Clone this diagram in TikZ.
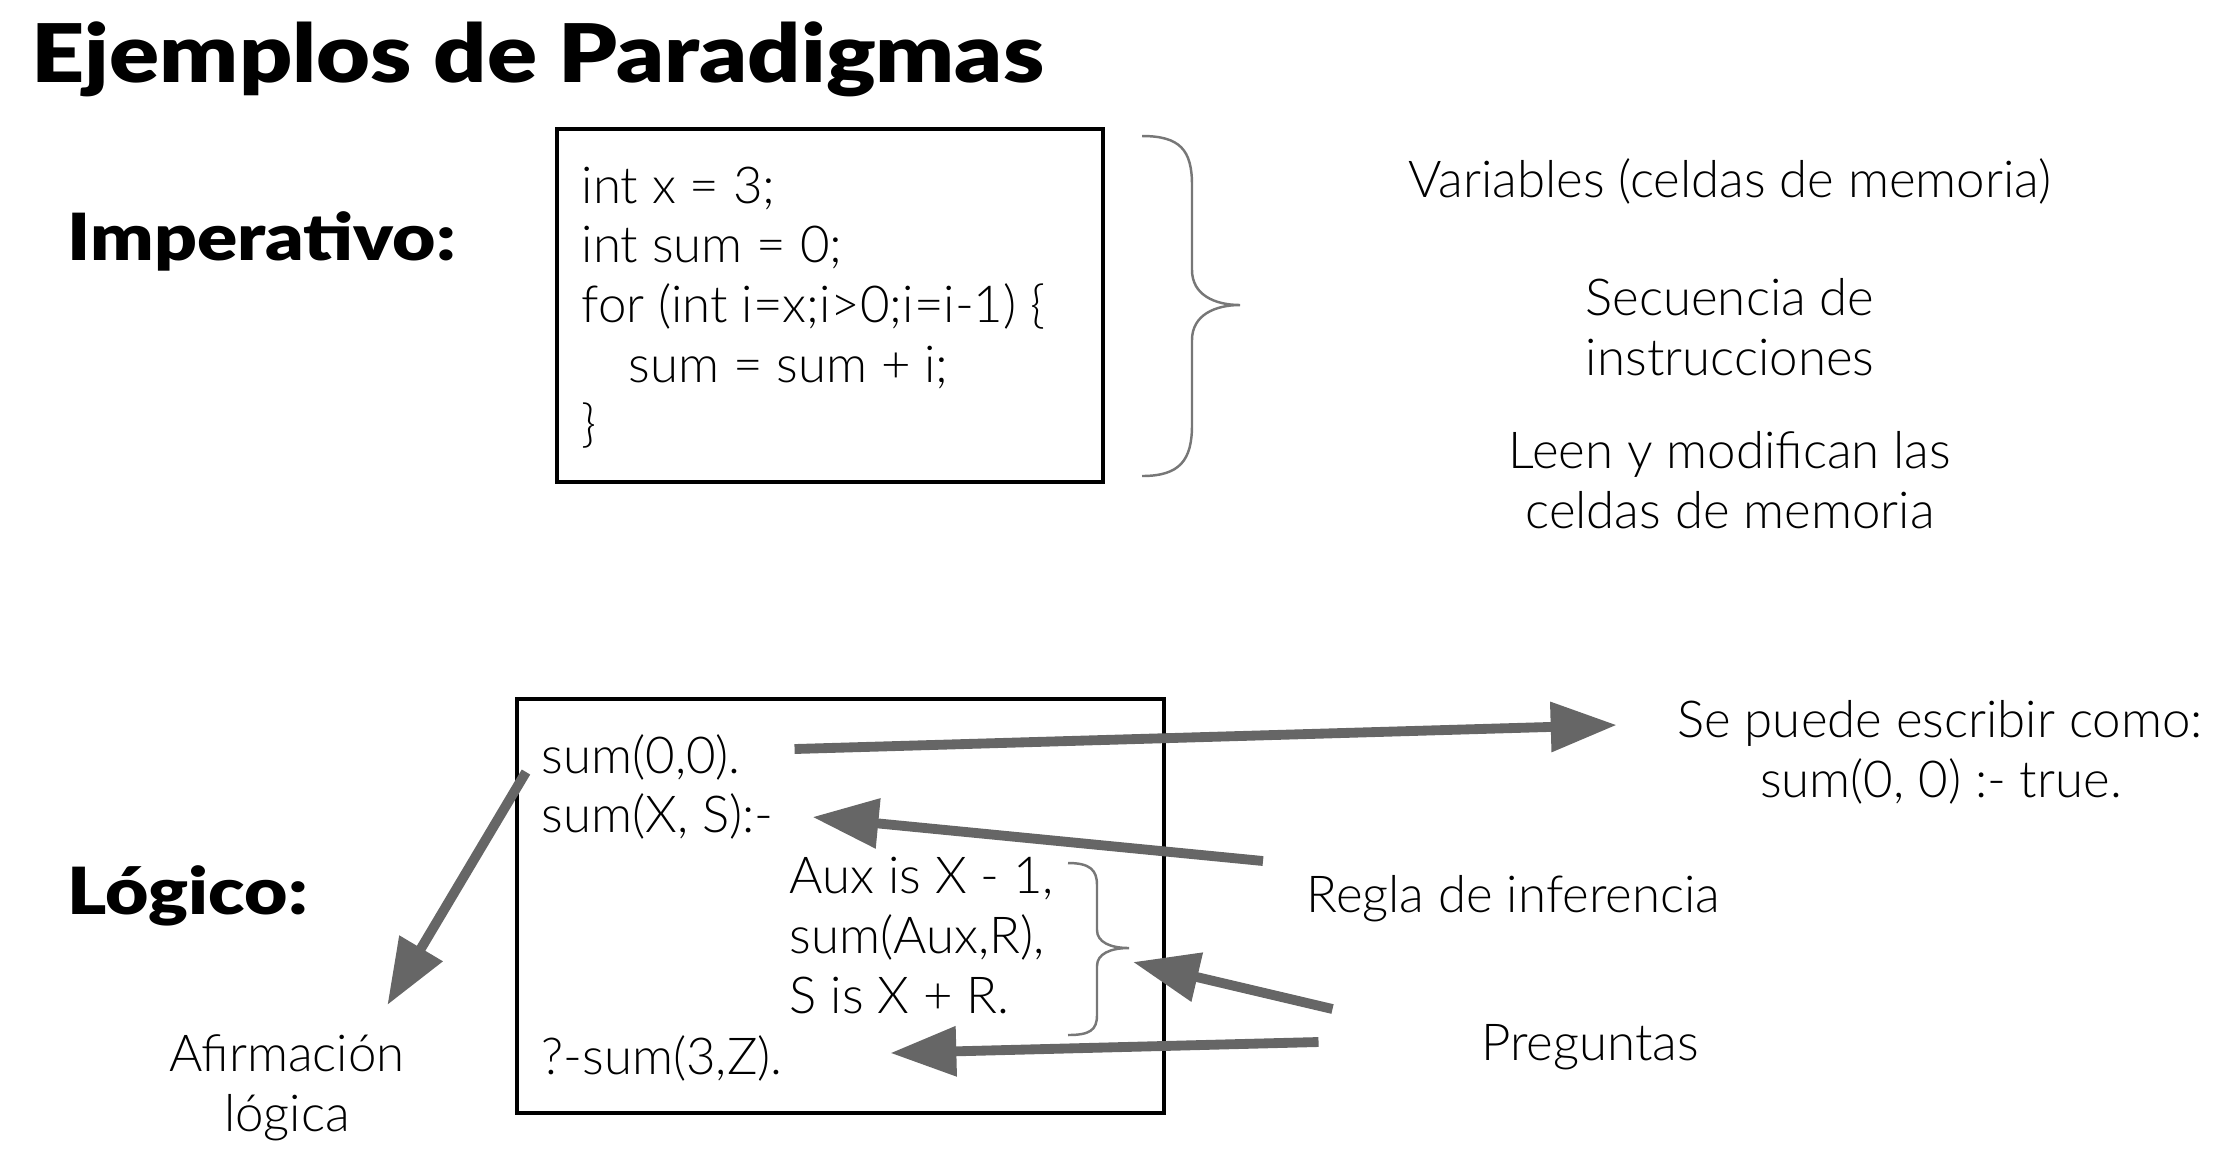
\documentclass[tikz,border=0pt]{standalone}
\usepackage{fontspec}
\setmainfont{Lato Light}
\newfontfamily\heavyfont[FakeStretch=1.15]{Lato Black}
\usetikzlibrary{arrows.meta}

\definecolor{arrowgray}{HTML}{666666}
\definecolor{bracegray}{HTML}{777777}

\newcommand{\bodyfont}{\fontsize{14.5pt}{17pt}\selectfont}
\newcommand{\titlefont}{\heavyfont\fontsize{23pt}{27pt}\selectfont}
\newcommand{\headfont}{\heavyfont\fontsize{18.5pt}{22pt}\selectfont}

\tikzset{
  txt/.style={inner sep=0pt, font=\bodyfont, anchor=base},
  codeline/.style={txt, anchor=base west},
  codebox/.style={draw, line width=1.2pt, inner sep=0pt},
  bigarrow/.style={arrowgray, line width=2.8pt,
    -{Triangle[length=0.66cm, width=0.48cm]}},
  curly/.style={bracegray, line width=0.7pt}
}

\begin{document}
\begin{tikzpicture}
  \useasboundingbox (0,0) rectangle (22.28,-11.62);
  \node[inner sep=0pt, anchor=base west, font=\titlefont] (title) at (0.31,-0.82) {Ejemplos de Paradigmas};
  \node[inner sep=0pt, anchor=base west, font=\headfont] (imp) at (0.67,-2.60) {Imperativo:};
  \node[inner sep=0pt, anchor=base west, font=\headfont] (log) at (0.67,-9.14) {Lógico:};

  \node[codebox, minimum width=5.46cm, minimum height=3.53cm] (impbox) at (8.30,-3.055) {};
  \node[codeline] (i1) at (5.81,-2.03) {int x = 3;};
  \node[codeline] (i2) at (5.81,-2.62) {int sum = 0;};
  \node[codeline] (i3) at (5.81,-3.22) {for (int i=x;i>0;i=i-1) \{};
  \node[codeline] (i4) at (6.28,-3.82) {sum = sum + i;};
  \node[codeline] (i5) at (5.81,-4.41) {\}};

  \draw[curly] (11.42,-1.36) .. controls (11.80,-1.36) and (11.92,-1.50) .. (11.92,-1.85)
    -- (11.92,-2.70) .. controls (11.92,-2.95) and (12.15,-3.05) .. (12.40,-3.05)
    .. controls (12.15,-3.05) and (11.92,-3.15) .. (11.92,-3.40)
    -- (11.92,-4.25) .. controls (11.92,-4.60) and (11.80,-4.76) .. (11.42,-4.76);

  \node[txt] (vars) at (17.30,-1.97) {Variables (celdas de memoria)};
  \node[txt] (seq1) at (17.30,-3.15) {Secuencia de};
  \node[txt] (seq2) at (17.30,-3.75) {instrucciones};
  \node[txt] (mod1) at (17.30,-4.68) {Leen y modifican las};
  \node[txt] (mod2) at (17.30,-5.28) {celdas de memoria};

  \node[codebox, minimum width=6.47cm, minimum height=4.14cm] (logbox) at (8.405,-9.06) {};
  \node[codeline] (fact) at (5.41,-7.73) {sum(0,0).};
  \node[codeline] (rule) at (5.41,-8.32) {sum(X, S):-};
  \node[codeline] (b1) at (7.89,-8.93) {Aux is X - 1,};
  \node[codeline] (b2) at (7.89,-9.53) {sum(Aux,R),};
  \node[codeline] (b3) at (7.89,-10.13) {S is X + R.};
  \node[codeline] (query) at (5.41,-10.74) {?-sum(3,Z).};

  \draw[curly] (10.68,-8.63) .. controls (10.90,-8.63) and (10.97,-8.70) .. (10.97,-8.85)
    -- (10.97,-9.30) .. controls (10.97,-9.42) and (11.10,-9.48) .. (11.29,-9.48)
    .. controls (11.10,-9.48) and (10.97,-9.54) .. (10.97,-9.66)
    -- (10.97,-10.15) .. controls (10.97,-10.30) and (10.90,-10.35) .. (10.68,-10.35);
  \coordinate (btip) at (11.33,-9.62);

  \node[txt] (puede1) at (19.40,-7.37) {Se puede escribir como:};
  \node[txt] (puede2) at (19.41,-7.97) {sum(0, 0) :- true.};
  \node[txt, anchor=base west] (regla) at (13.06,-9.12) {Regla de inferencia};
  \node[txt] (preg) at (15.90,-10.60) {Preguntas};
  \node[txt] (afirm1) at (2.87,-10.71) {Afirmación};
  \node[txt] (afirm2) at (2.87,-11.31) {lógica};

  \draw[bigarrow] ([shift={(0.53,0.24)}]fact.base east) -- ([shift={(-0.60,0.12)}]puede1.base west);
  \draw[bigarrow] ([shift={(-0.43,0.51)}]regla.base west) -- ([shift={(0.38,0.15)}]rule.base east);
  \draw[bigarrow] ([shift={(-1.48,0.51)}]preg.base west) -- (btip);
  \draw[bigarrow] ([shift={(-1.62,0.18)}]preg.base west) -- ([shift={(1.07,0.21)}]query.base east);
  \draw[bigarrow] ([shift={(-0.15,0.01)}]fact.base west) -- ([shift={(-0.18,0.66)}]afirm1.base east);
\end{tikzpicture}
\end{document}
